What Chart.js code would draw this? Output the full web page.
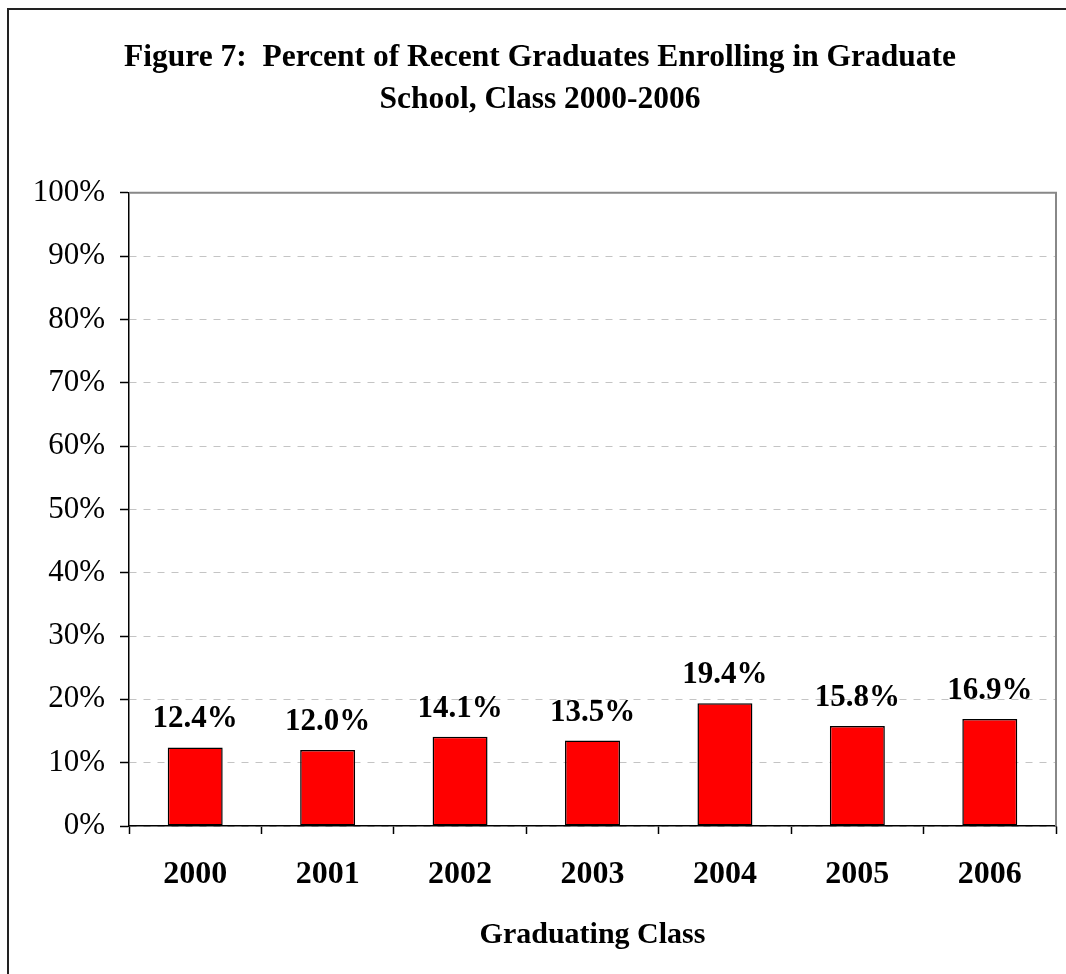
<!DOCTYPE html>
<html>
<head>
<meta charset="utf-8">
<script src="https://cdn.jsdelivr.net/npm/chart.js@4"></script>
<style>
  html, body { margin: 0; padding: 0; background: #fff; }
  #wrap { width: 1066px; height: 974px; position: relative; }
</style>
</head>
<body>
<div id="wrap"><canvas id="gradChart" width="1066" height="974"></canvas></div>
<script>
const classYears = ['2000', '2001', '2002', '2003', '2004', '2005', '2006'];
const gradPercent = [12.4, 12.0, 14.1, 13.5, 19.4, 15.8, 16.9];
const yTickValues = [0, 10, 20, 30, 40, 50, 60, 70, 80, 90, 100];
const titleLines = ['Figure 7:  Percent of Recent Graduates Enrolling in Graduate', 'School, Class 2000-2006'];
const xAxisTitle = 'Graduating Class';

const serif = '"Liberation Serif", "Times New Roman", serif';

// outer frame + grey plot border
const framePlugin = {
    id: 'frame',
    beforeDraw(chart) {
        const ctx = chart.ctx;
        ctx.save();
        ctx.strokeStyle = '#222';
        ctx.lineWidth = 2;
        ctx.beginPath();
        ctx.moveTo(8, 974);
        ctx.lineTo(8, 9);
        ctx.lineTo(1066, 9);
        ctx.stroke();
        ctx.restore();
    },
    afterDraw(chart) {
        const a = chart.chartArea;
        const ctx = chart.ctx;
        ctx.save();
        ctx.strokeStyle = '#888';
        ctx.lineWidth = 2;
        ctx.beginPath();
        ctx.moveTo(a.left, a.top);
        ctx.lineTo(a.right, a.top);
        ctx.lineTo(a.right, a.bottom);
        ctx.stroke();
        ctx.restore();
    }
};

// value labels above bars
const barLabels = {
    id: 'barLabels',
    afterDatasetsDraw(chart) {
        const ctx = chart.ctx;
        const meta = chart.getDatasetMeta(0);
        ctx.save();
        ctx.font = 'bold 31px ' + serif;
        ctx.fillStyle = '#000';
        ctx.textAlign = 'center';
        ctx.textBaseline = 'alphabetic';
        meta.data.forEach((bar, i) => {
            ctx.fillText(gradPercent[i].toFixed(1) + '%', bar.x, bar.y - 20);
        });
        ctx.restore();
    }
};

new Chart(document.getElementById('gradChart').getContext('2d'), {
    type: 'bar',
    data: {
        labels: classYears,
        datasets: [{
            data: gradPercent,
            backgroundColor: '#ff0000',
            borderColor: '#000',
            borderWidth: 1.5,
            borderSkipped: false,
            barPercentage: 1,
            categoryPercentage: 0.415
        }]
    },
    options: {
        responsive: false,
        animation: false,
        layout: { padding: { left: 24, right: 10, top: 0, bottom: 0 } },
        plugins: {
            legend: { display: false },
            tooltip: { enabled: false },
            title: {
                display: true,
                text: titleLines,
                color: '#000',
                font: { family: serif, size: 31.5, weight: 'bold', lineHeight: 1.33 },
                padding: { top: 37, bottom: 72 }
            }
        },
        scales: {
            x: {
                afterFit: s => { s.height = 148; },
                grid: {
                    drawOnChartArea: false,
                    tickLength: 8,
                    tickColor: '#000',
                    tickWidth: 1.5,
                    offset: true
                },
                border: { color: '#000', width: 1.5 },
                ticks: {
                    color: '#000',
                    padding: 22,
                    font: { family: serif, size: 32, weight: 'bold' }
                },
                title: {
                    display: true,
                    text: xAxisTitle,
                    color: '#000',
                    font: { family: serif, size: 30, weight: 'bold', lineHeight: 1.2 },
                    padding: { top: 0, bottom: 21 }
                }
            },
            y: {
                min: 0,
                max: 100,
                afterFit: s => { s.width = 105; },
                afterBuildTicks: s => { s.ticks = yTickValues.map(v => ({ value: v })); },
                grid: {
                    color: '#c4c4c4',
                    lineWidth: 1,
                    tickLength: 9,
                    tickColor: '#000',
                    tickWidth: 1.5
                },
                border: { color: '#000', width: 1.5, dash: [7, 7] },
                ticks: {
                    color: '#000',
                    padding: 15,
                    font: { family: serif, size: 31 },
                    callback: v => v + '%'
                }
            }
        }
    },
    plugins: [framePlugin, barLabels]
});
</script>
</body>
</html>
